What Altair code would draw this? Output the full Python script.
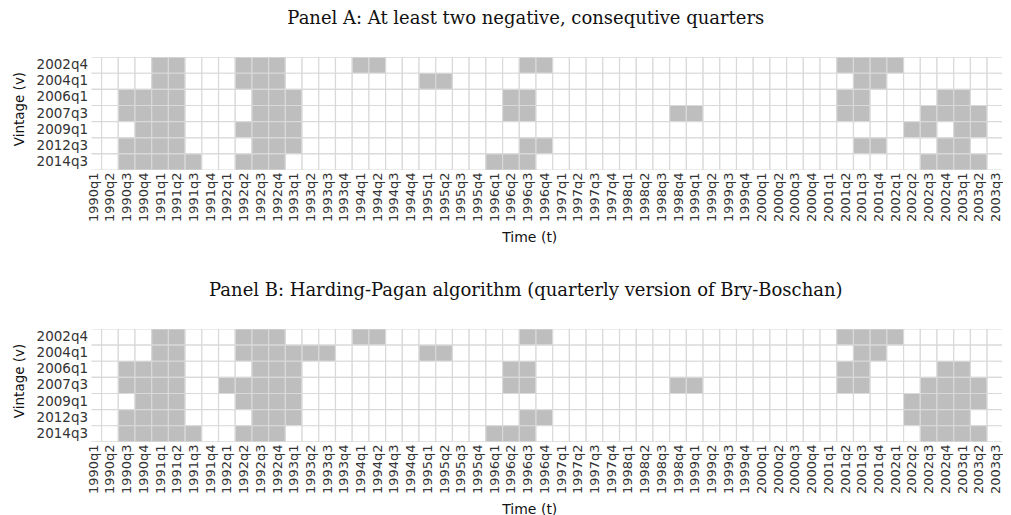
import altair as alt
import pandas as pd

QUARTERS = [
    "1990q1", "1990q2", "1990q3", "1990q4", "1991q1", "1991q2", "1991q3", "1991q4",
    "1992q1", "1992q2", "1992q3", "1992q4", "1993q1", "1993q2", "1993q3", "1993q4",
    "1994q1", "1994q2", "1994q3", "1994q4", "1995q1", "1995q2", "1995q3", "1995q4",
    "1996q1", "1996q2", "1996q3", "1996q4", "1997q1", "1997q2", "1997q3", "1997q4",
    "1998q1", "1998q2", "1998q3", "1998q4", "1999q1", "1999q2", "1999q3", "1999q4",
    "2000q1", "2000q2", "2000q3", "2000q4", "2001q1", "2001q2", "2001q3", "2001q4",
    "2002q1", "2002q2", "2002q3", "2002q4", "2003q1", "2003q2", "2003q3",
]
VINTAGES = ["2002q4", "2004q1", "2006q1", "2007q3", "2009q1", "2012q3", "2014q3"]

# Panel A: quarters flagged (grey) for each vintage
A_2002Q4 = ["1991q1", "1991q2", "1992q2", "1992q3", "1992q4", "1994q1", "1994q2",
            "1996q3", "1996q4", "2001q2", "2001q3", "2001q4", "2002q1"]
A_2004Q1 = ["1991q1", "1991q2", "1992q2", "1992q3", "1992q4", "1995q1", "1995q2",
            "2001q3", "2001q4"]
A_2006Q1 = ["1990q3", "1990q4", "1991q1", "1991q2", "1992q3", "1992q4", "1993q1",
            "1996q2", "1996q3", "2001q2", "2001q3", "2002q4", "2003q1"]
A_2007Q3 = ["1990q3", "1990q4", "1991q1", "1991q2", "1992q3", "1992q4", "1993q1",
            "1996q2", "1996q3", "1998q4", "1999q1", "2001q2", "2001q3", "2002q3",
            "2002q4", "2003q1", "2003q2"]
A_2009Q1 = ["1990q4", "1991q1", "1991q2", "1992q2", "1992q3", "1992q4", "1993q1",
            "2002q2", "2002q3", "2003q1", "2003q2"]
A_2012Q3 = ["1990q3", "1990q4", "1991q1", "1991q2", "1992q3", "1992q4", "1993q1",
            "1996q3", "1996q4", "2001q3", "2001q4", "2002q4", "2003q1"]
A_2014Q3 = ["1990q3", "1990q4", "1991q1", "1991q2", "1991q3", "1992q2", "1992q3",
            "1992q4", "1996q1", "1996q2", "1996q3", "2002q3", "2002q4", "2003q1", "2003q2"]

# Panel B: quarters flagged (grey) for each vintage
B_2002Q4 = ["1991q1", "1991q2", "1992q2", "1992q3", "1992q4", "1994q1", "1994q2",
            "1996q3", "1996q4", "2001q2", "2001q3", "2001q4", "2002q1"]
B_2004Q1 = ["1991q1", "1991q2", "1992q2", "1992q3", "1992q4", "1993q1", "1993q2",
            "1993q3", "1995q1", "1995q2", "2001q3", "2001q4"]
B_2006Q1 = ["1990q3", "1990q4", "1991q1", "1991q2", "1992q3", "1992q4", "1993q1",
            "1996q2", "1996q3", "2001q2", "2001q3", "2002q4", "2003q1"]
B_2007Q3 = ["1990q3", "1990q4", "1991q1", "1991q2", "1992q1", "1992q2", "1992q3",
            "1992q4", "1993q1", "1996q2", "1996q3", "1998q4", "1999q1", "2001q2",
            "2001q3", "2002q3", "2002q4", "2003q1", "2003q2"]
B_2009Q1 = ["1990q4", "1991q1", "1991q2", "1992q2", "1992q3", "1992q4", "1993q1",
            "2002q2", "2002q3", "2002q4", "2003q1", "2003q2"]
B_2012Q3 = ["1990q3", "1990q4", "1991q1", "1991q2", "1992q3", "1992q4", "1993q1",
            "1996q3", "1996q4", "2002q2", "2002q3", "2002q4", "2003q1"]
B_2014Q3 = ["1990q3", "1990q4", "1991q1", "1991q2", "1991q3", "1992q2", "1992q3",
            "1992q4", "1996q1", "1996q2", "1996q3", "2002q3", "2002q4", "2003q1", "2003q2"]

PANEL_A = dict(zip(VINTAGES, [A_2002Q4, A_2004Q1, A_2006Q1, A_2007Q3, A_2009Q1, A_2012Q3, A_2014Q3]))
PANEL_B = dict(zip(VINTAGES, [B_2002Q4, B_2004Q1, B_2006Q1, B_2007Q3, B_2009Q1, B_2012Q3, B_2014Q3]))

TITLE_A = "Panel A: At least two negative, consequtive quarters"
TITLE_B = "Panel B: Harding-Pagan algorithm (quarterly version of Bry-Boschan)"


def make_df(panel):
    rows = []
    for v in VINTAGES:
        flagged = set(panel[v])
        for i, q in enumerate(QUARTERS):
            rows.append({"vintage": v, "quarter": q, "idx": i,
                         "flag": "yes" if q in flagged else "no"})
    return pd.DataFrame(rows)


LABEL_EXPR = "[" + ",".join("'" + q + "'" for q in QUARTERS) + "][datum.value]"

SANS = "DejaVu Sans"
SERIF = "DejaVu Serif"

X_MIN, X_MAX = -0.1, 54.39
PLOT_W = 911.0
PLOT_H = 113


def panel_chart(df, title):
    return (
        alt.Chart(df)
        .transform_calculate(x0="datum.idx - 0.5", x1="datum.idx + 0.5")
        .mark_rect(stroke="#d9d9d9", strokeWidth=1.2, clip=True)
        .encode(
            x=alt.X(
                "x0:Q",
                scale=alt.Scale(domain=[X_MIN, X_MAX], nice=False, zero=False),
                axis=alt.Axis(
                    values=list(range(len(QUARTERS))),
                    labelExpr=LABEL_EXPR,
                    labelAngle=270,
                    labelOverlap=False,
                    labelBound=False,
                    labelFlush=False,
                    labelFont=SANS,
                    labelFontSize=13,
                    labelColor="#333333",
                    labelPadding=2,
                    ticks=False,
                    domain=False,
                    grid=False,
                    title="Time (t)",
                    titleFont=SANS,
                    titleFontSize=14,
                    titleFontWeight="normal",
                    titleColor="#111111",
                    titlePadding=9,
                    titleX=438,
                ),
            ),
            x2="x1:Q",
            y=alt.Y(
                "vintage:N",
                sort=VINTAGES,
                scale=alt.Scale(paddingInner=0, paddingOuter=0),
                axis=alt.Axis(
                    labelFont=SANS,
                    labelFontSize=13.5,
                    labelColor="#333333",
                    labelPadding=4,
                    ticks=False,
                    domain=False,
                    grid=False,
                    title="Vintage (v)",
                    titleFont=SANS,
                    titleFontSize=13.5,
                    titleFontWeight="normal",
                    titleColor="#111111",
                    titlePadding=10,
                    titleY=51.5,
                ),
            ),
            color=alt.Color(
                "flag:N",
                scale=alt.Scale(domain=["no", "yes"], range=["#ffffff", "#bebebe"]),
                legend=None,
            ),
        )
        .properties(
            width=PLOT_W,
            height=PLOT_H,
            title=alt.TitleParams(
                title,
                font=SERIF,
                fontSize=18,
                fontWeight="normal",
                color="#111111",
                anchor="middle",
                baseline="alphabetic",
                offset=15,
                dx=-21,
            ),
        )
    )


chart = (
    alt.vconcat(panel_chart(make_df(PANEL_A), TITLE_A),
                panel_chart(make_df(PANEL_B), TITLE_B),
                spacing=37)
    .properties(padding={"left": 3.6, "top": 2, "right": 0, "bottom": 0})
    .configure_view(stroke=None)
)

chart.save("out.html", embed_options={"renderer": "svg", "actions": False})
